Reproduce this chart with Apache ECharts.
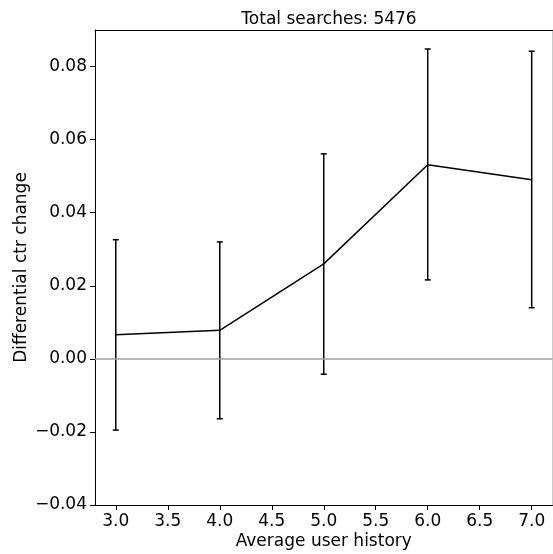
<!DOCTYPE html>
<html lang="en">
<head>
    <meta charset="UTF-8">
    <title>Differential ctr change</title>
    <script src="https://cdn.jsdelivr.net/npm/echarts@6/dist/echarts.min.js"></script>
    <style>
        html, body { margin: 0; padding: 0; background: #fff; }
    </style>
</head>
<body>
    <div id="main" style="width: 553px;height:554px;"></div>
    <script type="text/javascript">
        // data
        var historyX = [3.0, 4.0, 5.0, 6.0, 7.0];
        var meanChange = [0.0066, 0.0078, 0.0260, 0.0531, 0.0490];
        var lowerErr = [-0.0195, -0.0164, -0.0042, 0.0216, 0.0140];
        var upperErr = [0.0326, 0.0320, 0.0561, 0.0848, 0.0842];
        var xTicks = [3.0, 3.5, 4.0, 4.5, 5.0, 5.5, 6.0, 6.5, 7.0];
        var yTicks = [-0.04, -0.02, 0.00, 0.02, 0.04, 0.06, 0.08];
        var totalSearches = 5476;

        var font = 'DejaVu Sans';
        var fs = 17;
        var myChart = echarts.init(document.getElementById('main'));

        var lineData = historyX.map(function (x, i) { return [x, meanChange[i]]; });
        var errData = historyX.map(function (x, i) { return [x, lowerErr[i], upperErr[i]]; });

        var option = {
            animation: false,
            backgroundColor: '#fff',
            title: {
                text: 'Total searches: ' + totalSearches,
                left: 324,
                textAlign: 'center',
                top: 6,
                textStyle: { fontFamily: font, fontSize: fs, fontWeight: 'normal', color: '#000' }
            },
            grid: { left: 95, right: 0.5, top: 30, bottom: 49, outerBoundsMode: 'none' },
            xAxis: [{
                type: 'value',
                min: 2.8,
                max: 7.2,
                name: 'Average user history',
                nameLocation: 'middle',
                nameGap: 28,
                nameMoveOverlap: false,
                nameTextStyle: { fontFamily: font, fontSize: fs, color: '#000' },
                splitLine: { show: false },
                axisLine: { show: true, onZero: false, lineStyle: { color: '#000', width: 1 } },
                axisTick: { show: true, length: 5, customValues: xTicks, lineStyle: { color: '#000' } },
                axisLabel: {
                    customValues: xTicks,
                    margin: 8,
                    fontFamily: font, fontSize: fs, color: '#000',
                    formatter: function (v) { return v.toFixed(1); }
                }
            }, {
                type: 'value',
                position: 'top',
                min: 2.8,
                max: 7.2,
                splitLine: { show: false },
                axisLine: { show: true, onZero: false, lineStyle: { color: '#000', width: 1 } },
                axisTick: { show: false },
                axisLabel: { show: false }
            }],
            yAxis: [{
                type: 'value',
                min: -0.04,
                max: 0.09,
                name: 'Differential ctr change',
                nameLocation: 'middle',
                nameGap: 65,
                nameMoveOverlap: false,
                nameTextStyle: { fontFamily: font, fontSize: fs, color: '#000' },
                splitLine: { show: false },
                axisLine: { show: true, onZero: false, lineStyle: { color: '#000', width: 1 } },
                axisTick: { show: true, length: 5, customValues: yTicks, lineStyle: { color: '#000' } },
                axisLabel: {
                    customValues: yTicks,
                    margin: 8,
                    fontFamily: font, fontSize: fs, color: '#000',
                    formatter: function (v) { return v.toFixed(2).replace('-', '\u2212'); }
                }
            }, {
                type: 'value',
                position: 'right',
                min: -0.04,
                max: 0.09,
                splitLine: { show: false },
                axisLine: { show: true, onZero: false, lineStyle: { color: '#ccc', width: 1 } },
                axisTick: { show: false },
                axisLabel: { show: false }
            }],
            series: [
                {
                    name: 'mean',
                    type: 'line',
                    data: lineData,
                    symbol: 'none',
                    lineStyle: { color: '#000', width: 1.5 },
                    markLine: {
                        silent: true,
                        symbol: 'none',
                        label: { show: false },
                        lineStyle: { color: '#a0a0a0', width: 1.5, type: 'solid' },
                        data: [{ yAxis: 0 }]
                    },
                    z: 3
                },
                {
                    name: 'err',
                    type: 'custom',
                    data: errData,
                    renderItem: function (params, api) {
                        var lo = api.coord([api.value(0), api.value(1)]);
                        var hi = api.coord([api.value(0), api.value(2)]);
                        var w = 3;
                        var style = { stroke: '#000', lineWidth: 1.5 };
                        return {
                            type: 'group',
                            children: [
                                { type: 'line', shape: { x1: lo[0], y1: lo[1], x2: hi[0], y2: hi[1] }, style: style },
                                { type: 'line', shape: { x1: lo[0] - w, y1: lo[1], x2: lo[0] + w, y2: lo[1] }, style: style },
                                { type: 'line', shape: { x1: hi[0] - w, y1: hi[1], x2: hi[0] + w, y2: hi[1] }, style: style }
                            ]
                        };
                    },
                    z: 4
                }
            ]
        };
        myChart.setOption(option);
    </script>
</body>
</html>
